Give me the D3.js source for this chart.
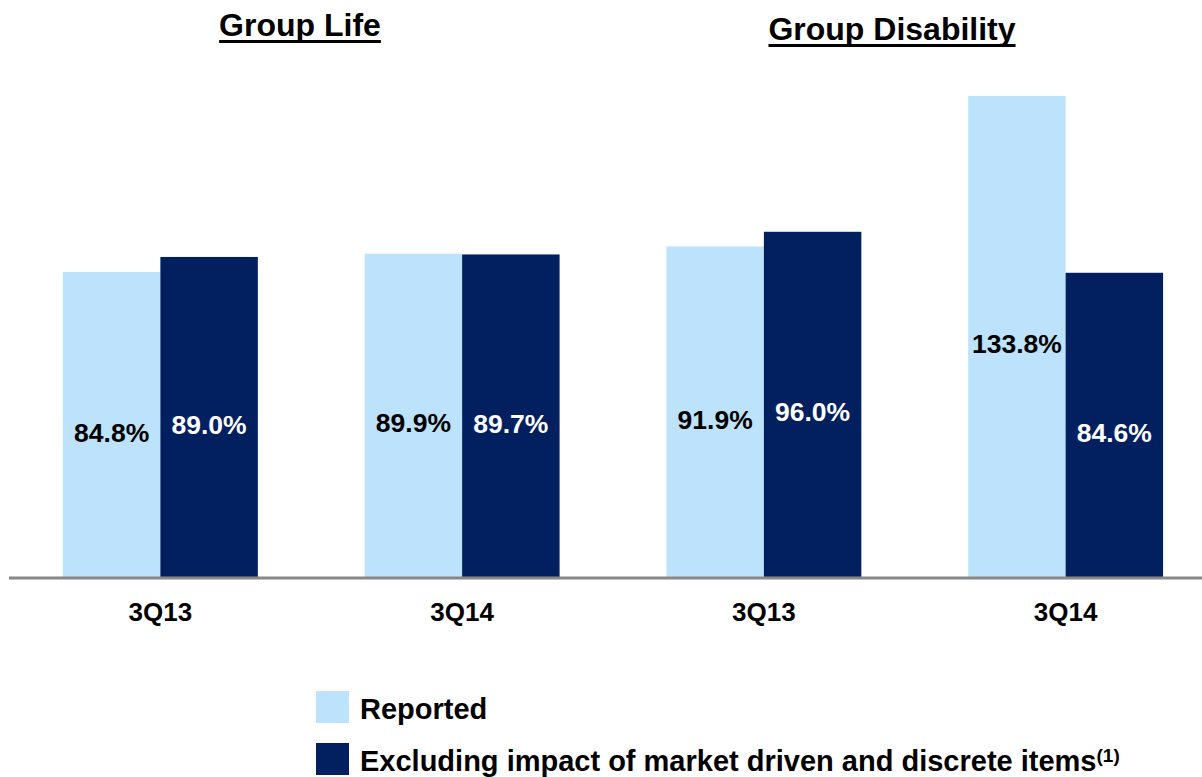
<!DOCTYPE html>
<html>
<head>
<meta charset="utf-8">
<script src="https://cdn.jsdelivr.net/npm/d3@7"></script>
<style>
  html, body { margin: 0; padding: 0; background: #fff; }
  svg { display: block; font-family: Arial, "Liberation Sans", sans-serif; font-weight: bold; }
</style>
</head>
<body>
<svg id="chart" width="1202" height="777"></svg>
<script>
// chart data
const periods = ['3Q13', '3Q14', '3Q13', '3Q14'];
const segments = ['Group Life', 'Group Life', 'Group Disability', 'Group Disability'];
const reported = [84.8, 89.9, 91.9, 133.8];
const excluding = [89.0, 89.7, 96.0, 84.6];
const seriesNames = ['Reported', 'Excluding impact of market driven and discrete items'];
const titles = ['Group Life', 'Group Disability'];

const width = 1202;
const height = 777;
const lightBlue = '#bce2fc';
const navy = '#022060';

const svg = d3.select('#chart');

const keys = periods.map((p, i) => i);
const rows = keys.map((i) => ({
  key: i,
  period: periods[i],
  segment: segments[i],
  values: [reported[i], excluding[i]]
}));

// scales
const x = d3.scaleBand()
  .domain(keys)
  .range([9.5, 1216.5])
  .paddingInner(0.354)
  .paddingOuter(0.177);

const xInner = d3.scaleBand()
  .domain([0, 1])
  .range([0, x.bandwidth()]);

const y = d3.scaleLinear()
  .domain([0, 100])
  .range([577, 217.4]);

// bars
const groups = svg.append('g')
  .selectAll('g')
  .data(rows)
  .enter()
  .append('g')
  .attr('transform', (d) => `translate(${x(d.key)},0)`);

groups.selectAll('rect')
  .data((d) => d.values.map((v, s) => ({ v, s })))
  .enter()
  .append('rect')
  .attr('x', (d) => xInner(d.s))
  .attr('y', (d) => y(d.v))
  .attr('width', xInner.bandwidth())
  .attr('height', (d) => y(0) - y(d.v))
  .attr('fill', (d) => (d.s === 0 ? lightBlue : navy));

// value labels, centred in each bar
groups.selectAll('text.value')
  .data((d) => d.values.map((v, s) => ({ v, s })))
  .enter()
  .append('text')
  .attr('class', 'value')
  .attr('x', (d) => xInner(d.s) + xInner.bandwidth() / 2)
  .attr('y', (d) => (y(d.v) + y(0)) / 2 + 17)
  .attr('text-anchor', 'middle')
  .attr('font-size', 26.5)
  .attr('fill', (d) => (d.s === 0 ? '#000' : '#fff'))
  .text((d) => d.v.toFixed(1) + '%');

// baseline axis
const xAxis = d3.axisBottom(x)
  .tickSize(0)
  .tickPadding(0)
  .tickFormat((i) => periods[i]);

const axisG = svg.append('g')
  .attr('transform', `translate(0,${y(0) + 1})`)
  .call(xAxis);

axisG.select('.domain')
  .attr('d', 'M9,0H1202')
  .attr('stroke', '#888888')
  .attr('stroke-width', 3);

axisG.selectAll('.tick text')
  .attr('y', 43)
  .attr('dy', null)
  .attr('font-size', 26)
  .attr('font-weight', 'bold')
  .attr('font-family', 'Arial, "Liberation Sans", sans-serif')
  .attr('fill', '#000');

// panel titles, underlined
const titlePos = [
  { text: titles[0], cx: 300, base: 36 },
  { text: titles[1], cx: 892, base: 40 }
];

titlePos.forEach((t) => {
  const el = svg.append('text')
    .attr('x', t.cx)
    .attr('y', t.base)
    .attr('text-anchor', 'middle')
    .attr('font-size', 32)
    .attr('fill', '#000')
    .text(t.text);
  const len = el.node().getComputedTextLength();
  svg.append('line')
    .attr('x1', t.cx - len / 2)
    .attr('x2', t.cx + len / 2)
    .attr('y1', t.base + 5.5)
    .attr('y2', t.base + 5.5)
    .attr('stroke', '#000')
    .attr('stroke-width', 3);
});

// legend
const legend = svg.append('g')
  .attr('transform', 'translate(316,691)');

const legendItems = legend.selectAll('g')
  .data(seriesNames)
  .enter()
  .append('g')
  .attr('transform', (d, i) => `translate(0,${i * 52})`);

legendItems.append('rect')
  .attr('width', 33)
  .attr('height', 32)
  .attr('fill', (d, i) => (i === 0 ? lightBlue : navy));

const legendText = legendItems.append('text')
  .attr('x', 44)
  .attr('y', 28)
  .attr('font-size', 29)
  .attr('fill', '#000')
  .text((d) => d);

legendText.filter((d, i) => i === 1)
  .append('tspan')
  .attr('font-size', 19)
  .attr('dx', 0)
  .attr('dy', -9)
  .text('(1)');
</script>
</body>
</html>
